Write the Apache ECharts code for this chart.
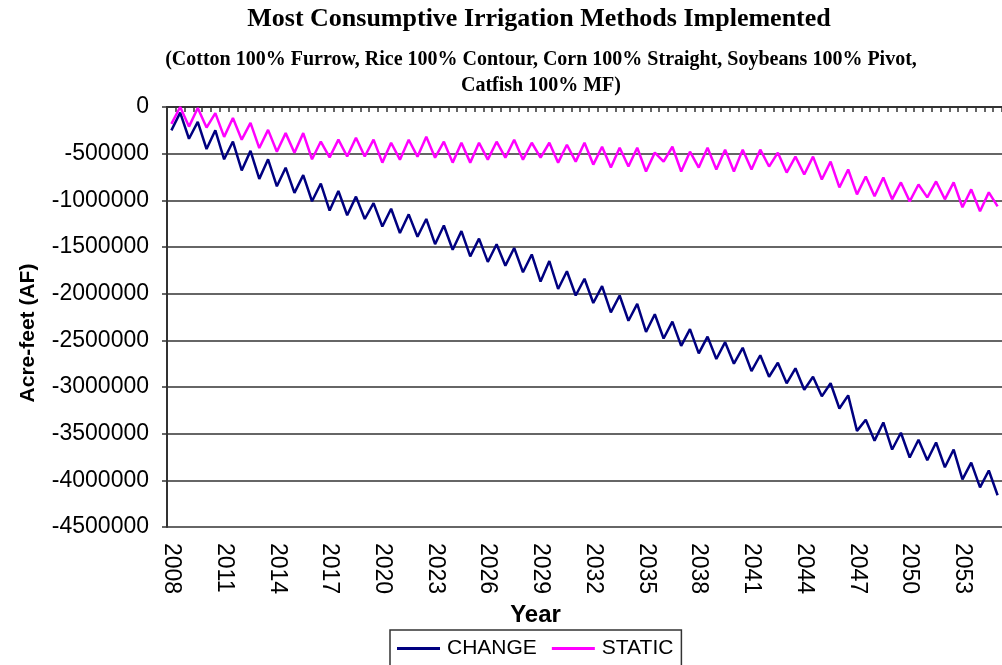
<!DOCTYPE html>
<html>
<head>
<meta charset="utf-8">
<title>Most Consumptive Irrigation Methods Implemented</title>
<script src="https://cdn.jsdelivr.net/npm/echarts@6/dist/echarts.min.js"></script>
<style>
  html, body { margin: 0; padding: 0; background: #fff; }
  #chart { width: 1002px; height: 665px; }
</style>
</head>
<body>
<div id="chart"></div>
<script>
// half-yearly points, 2008 .. 2055
var startYear = 2008
var nPoints = 95
var years = []
for (var i = 0; i < nPoints; i++) {
  years.push(String(startYear + Math.floor(i / 2)))
}

var changeVals = [
  -250000, -60000, -340000, -160000, -450000, -250000, -560000, -370000, -680000, -470000,
  -770000, -560000, -850000, -650000, -920000, -730000, -1010000, -820000, -1110000, -900000,
  -1160000, -960000, -1200000, -1030000, -1280000, -1090000, -1350000, -1150000, -1390000, -1200000,
  -1470000, -1270000, -1530000, -1330000, -1600000, -1410000, -1660000, -1470000, -1700000, -1510000,
  -1770000, -1580000, -1870000, -1650000, -1950000, -1760000, -2020000, -1840000, -2100000, -1920000,
  -2200000, -2020000, -2290000, -2110000, -2410000, -2220000, -2480000, -2300000, -2560000, -2380000,
  -2640000, -2460000, -2700000, -2520000, -2750000, -2580000, -2830000, -2660000, -2890000, -2740000,
  -2960000, -2800000, -3030000, -2890000, -3100000, -2960000, -3230000, -3090000, -3470000, -3350000,
  -3575000, -3380000, -3670000, -3490000, -3755000, -3565000, -3785000, -3595000, -3860000, -3670000,
  -3990000, -3810000, -4075000, -3895000, -4160000
]

var staticVals = [
  -180000, 0, -210000, -10000, -220000, -65000, -320000, -117000, -350000, -170000,
  -440000, -245000, -480000, -280000, -490000, -280000, -560000, -370000, -540000, -350000,
  -530000, -330000, -530000, -350000, -596000, -383000, -564000, -351000, -532000, -319000,
  -543000, -372000, -596000, -383000, -596000, -383000, -564000, -372000, -543000, -351000,
  -564000, -383000, -543000, -383000, -596000, -404000, -585000, -383000, -617000, -426000,
  -649000, -436000, -638000, -436000, -691000, -489000, -585000, -426000, -691000, -479000,
  -649000, -436000, -670000, -457000, -691000, -457000, -670000, -457000, -638000, -489000,
  -702000, -532000, -723000, -532000, -777000, -585000, -862000, -670000, -936000, -745000,
  -957000, -755000, -989000, -808000, -1011000, -830000, -968000, -798000, -989000, -808000,
  -1074000, -883000, -1117000, -915000, -1064000
]

var seriesNames = ['CHANGE', 'STATIC']
var colorList = ['#000080', '#ff00ff']

var chart = echarts.init(document.getElementById('chart'))
chart.setOption({
  backgroundColor: '#fff',
  animation: false,
  title: [
    {
      text: 'Most Consumptive Irrigation Methods Implemented',
      left: 534,
      top: 1,
      textAlign: 'center',
      textStyle: { fontFamily: 'Liberation Serif', fontWeight: 'bold', fontSize: 26, color: '#000' }
    },
    {
      text: '(Cotton 100% Furrow, Rice 100% Contour, Corn 100% Straight, Soybeans 100% Pivot,\nCatfish 100% MF)',
      left: 536,
      top: 42,
      textAlign: 'center',
      textStyle: { fontFamily: 'Liberation Serif', fontWeight: 'bold', fontSize: 20, lineHeight: 26, color: '#000' }
    }
  ],
  legend: {
    data: seriesNames,
    left: 390,
    top: 630,
    padding: [8, 8, 8, 7],
    itemGap: 15,
    itemWidth: 43,
    itemHeight: 3,
    icon: 'rect',
    borderColor: '#333',
    borderWidth: 1.5,
    borderRadius: 0,
    textStyle: { fontFamily: 'Liberation Sans', fontSize: 21, color: '#000', padding: [0, 0, 0, 2] }
  },
  grid: {
    left: 167,
    right: -3,
    top: 107,
    bottom: 138
  },
  xAxis: [
    {
      type: 'category',
      position: 'bottom',
      data: years,
      name: 'Year',
      nameLocation: 'middle',
      nameGap: 76,
      nameTextStyle: { fontFamily: 'Liberation Sans', fontWeight: 'bold', fontSize: 24, color: '#000', padding: [0, 98, 0, 0] },
      axisLine: { show: true, lineStyle: { color: '#333', width: 2 } },
      axisTick: { show: false },
      axisLabel: {
        interval: 5,
        rotate: -90,
        margin: 16,
        fontFamily: 'Liberation Sans',
        fontSize: 23,
        color: '#000'
      },
      splitLine: { show: false }
    },
    {
      type: 'category',
      position: 'top',
      data: years,
      axisLine: { show: true, lineStyle: { color: '#333', width: 2 } },
      axisTick: { show: true, inside: true, length: 5, interval: 0, lineStyle: { color: '#333', width: 1.5 } },
      axisLabel: { show: false },
      splitLine: { show: false }
    }
  ],
  yAxis: {
    type: 'value',
    min: -4500000,
    max: 0,
    interval: 500000,
    name: 'Acre-feet (AF)',
    nameLocation: 'middle',
    nameGap: 128,
    nameTextStyle: { fontFamily: 'Liberation Sans', fontWeight: 'bold', fontSize: 21, color: '#000', padding: [0, 32, 0, 0] },
    axisLine: { show: true, lineStyle: { color: '#333', width: 2 } },
    axisTick: { show: true, length: 5, lineStyle: { color: '#333', width: 1.5 } },
    axisLabel: {
      margin: 18,
      fontFamily: 'Liberation Sans',
      fontSize: 23,
      color: '#000',
      formatter: function(v) { return String(v) }
    },
    splitLine: { show: true, lineStyle: { color: '#666', width: 2 } }
  },
  series: [
    {
      name: seriesNames[0],
      type: 'line',
      xAxisIndex: 0,
      data: changeVals,
      symbol: 'none',
      lineStyle: { color: colorList[0], width: 2.5 },
      itemStyle: { color: colorList[0] }
    },
    {
      name: seriesNames[1],
      type: 'line',
      xAxisIndex: 0,
      data: staticVals,
      symbol: 'none',
      lineStyle: { color: colorList[1], width: 2.5 },
      itemStyle: { color: colorList[1] }
    }
  ]
})
</script>
</body>
</html>
